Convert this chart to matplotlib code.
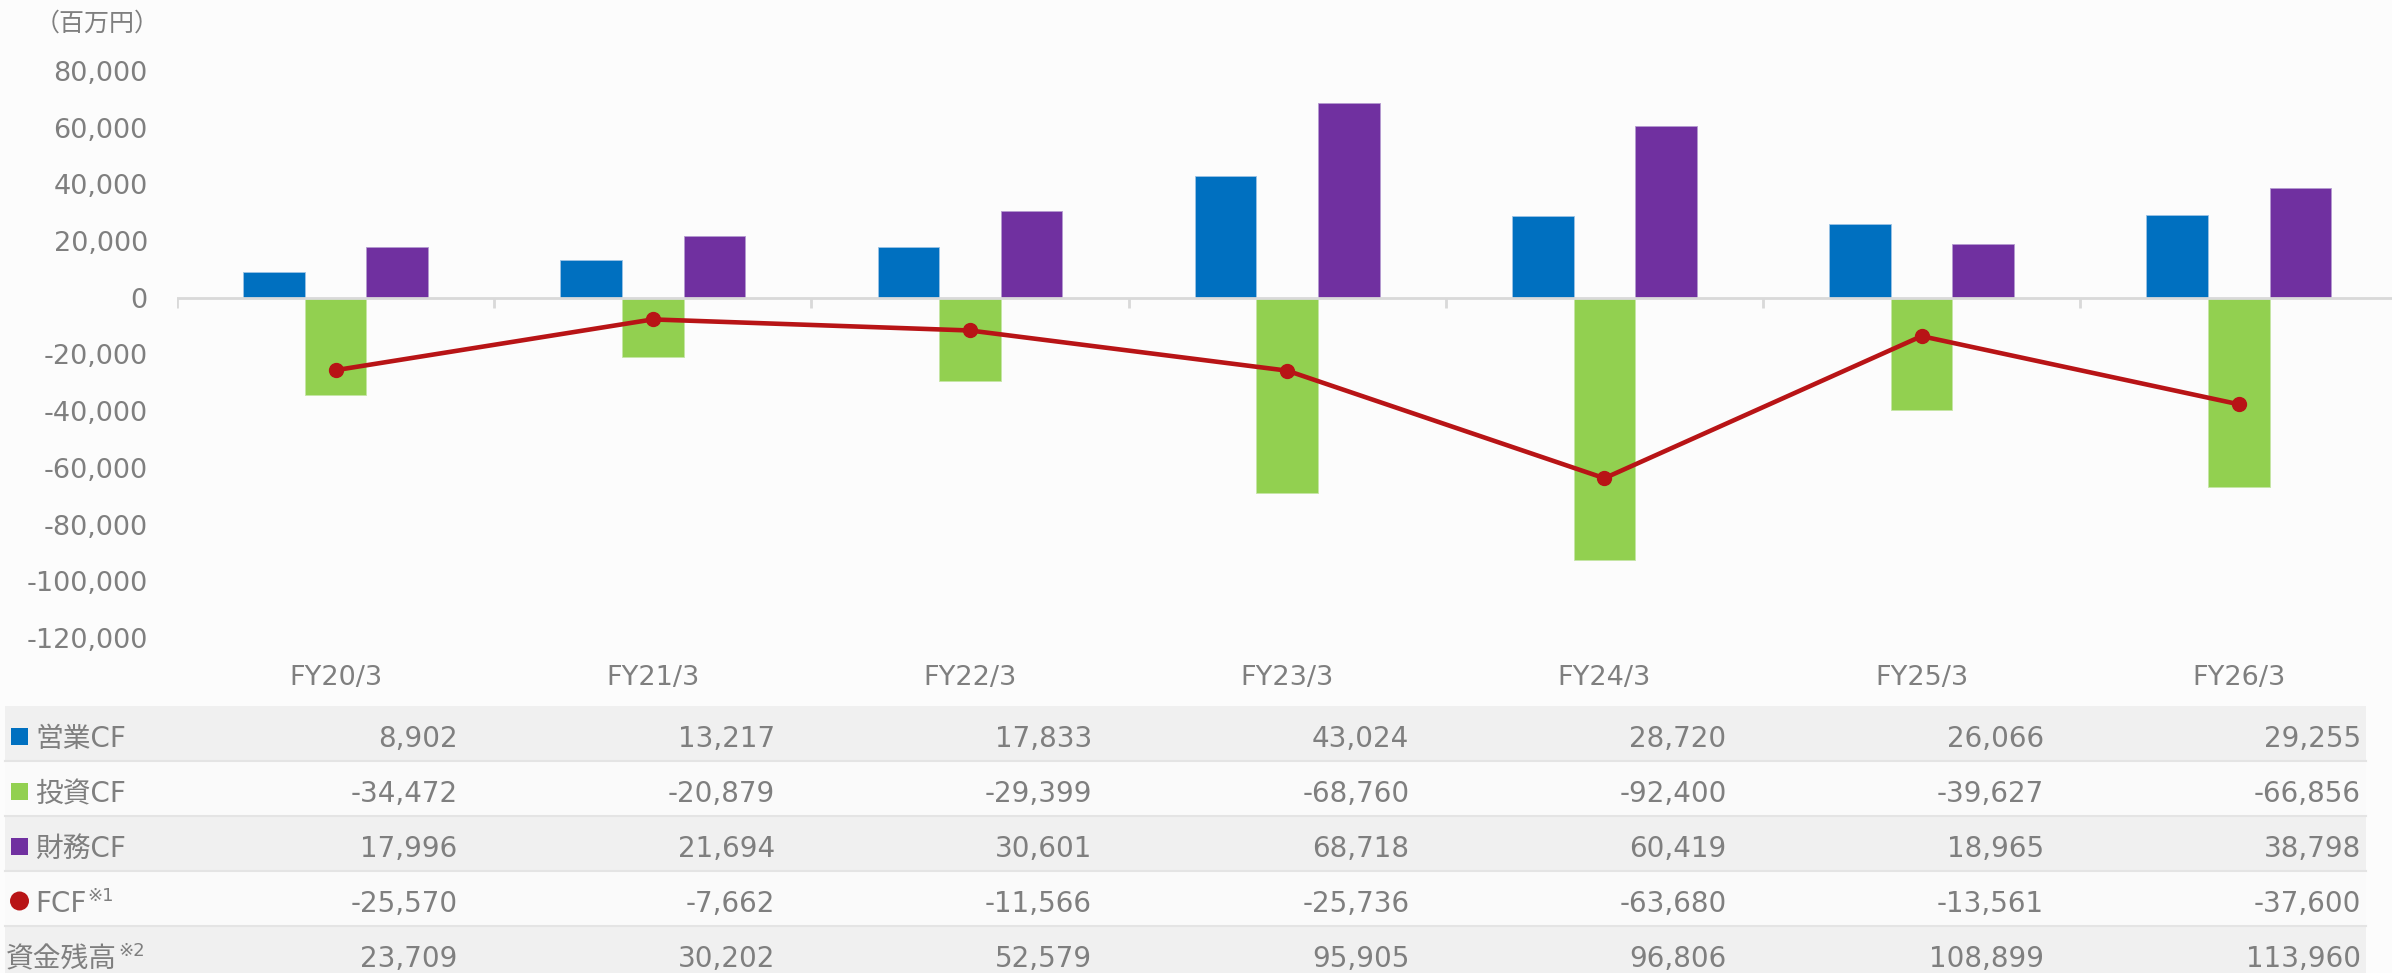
import numpy as np
import matplotlib
matplotlib.use("Agg")
import matplotlib.pyplot as plt
from matplotlib.patches import Rectangle, Ellipse
from matplotlib.transforms import blended_transform_factory

plt.rcParams['font.family'] = ['DejaVu Sans', 'Noto Sans CJK JP']

# ---- data ----
categories = ["FY20/3", "FY21/3", "FY22/3", "FY23/3", "FY24/3", "FY25/3", "FY26/3"]
op_cf = [8902, 13217, 17833, 43024, 28720, 26066, 29255]
inv_cf = [-34472, -20879, -29399, -68760, -92400, -39627, -66856]
fin_cf = [17996, 21694, 30601, 68718, 60419, 18965, 38798]
fcf = [-25570, -7662, -11566, -25736, -63680, -13561, -37600]
cash = [23709, 30202, 52579, 95905, 96806, 108899, 113960]
row_labels = ["営業CF", "投資CF", "財務CF", "FCF", "資金残高"]
row_sups = ["", "", "", "※1", "※2"]
yticks = list(range(-120000, 80001, 20000))
unit_label = "（百万円）"

C_BLUE = "#0070C0"
C_GREEN = "#92D050"
C_PURPLE = "#7030A0"
C_RED = "#B81416"
C_TEXT = "#7F7F7F"
C_BG = "#FCFCFC"

W, H = 2392, 973
fig = plt.figure(figsize=(W / 100, H / 100), dpi=100)
fig.patch.set_facecolor(C_BG)

def fx(px):
    return px / W

def fy(py):
    return 1 - py / H

ymin, ymax = -120000, 100000
ax_left_px, ax_right_px, ax_top_px, ax_bot_px = 177.0, 2397.4, 14.2, 637.9
ax = fig.add_axes([fx(ax_left_px), fy(ax_bot_px), (ax_right_px - ax_left_px) / W, (ax_bot_px - ax_top_px) / H])
ax.set_facecolor(C_BG)
ax.set_xlim(-0.5, len(categories) - 0.5)
ax.set_ylim(ymin, ymax)

x = np.arange(len(categories))
bw = 0.194
ax.bar(x - bw, op_cf, bw, color=C_BLUE, zorder=2, edgecolor="#9CC3E5", linewidth=0.6)
ax.bar(x, inv_cf, bw, color=C_GREEN, zorder=2, edgecolor="#C5E6A5", linewidth=0.6)
ax.bar(x + bw, fin_cf, bw, color=C_PURPLE, zorder=2, edgecolor="#B49AD0", linewidth=0.6)

# zero axis line and category boundary ticks
ax.axhline(0, color="#D9D9D9", lw=2, zorder=3)
tick_len = 10 / (ax_bot_px - ax_top_px) * (ymax - ymin)
ax.vlines(np.arange(len(categories) + 1) - 0.5, -tick_len, 0, color="#D9D9D9", lw=2, zorder=3)

ax.plot(x, fcf, color=C_RED, lw=3.3, marker="o", markersize=10, zorder=5)

for s in ax.spines.values():
    s.set_visible(False)
ax.set_xticks([])
ax.set_yticks(yticks)
ax.set_yticklabels([f"{v:,}" for v in yticks], color=C_TEXT, fontsize=19.5)
ax.tick_params(axis="y", length=0, pad=21)

fig.text(fx(160), fy(24), unit_label, ha="right", va="center", color=C_TEXT, fontsize=18)

bt = blended_transform_factory(ax.transData, fig.transFigure)
for i, c in enumerate(categories):
    fig.text(i, fy(678), c, transform=bt, ha="center", va="center", color=C_TEXT, fontsize=19.5)

# ---- table ----
row_top0, row_h = 706, 55
tab_left, tab_right = 5, 2366
rows = [op_cf, inv_cf, fin_cf, fcf, cash]
fig.canvas.draw()
renderer = fig.canvas.get_renderer()
for r, vals in enumerate(rows):
    top = row_top0 + r * row_h
    color = "#F0F0F0" if r % 2 == 0 else "#FAFAFA"
    fig.patches.append(Rectangle((fx(tab_left), fy(top + row_h)), fx(tab_right) - fx(tab_left), row_h / H,
                                 transform=fig.transFigure, facecolor=color, edgecolor="none", zorder=0))
    if r > 0:
        fig.lines.append(plt.Line2D([fx(tab_left), fx(tab_right)], [fy(top), fy(top)],
                                    transform=fig.transFigure, color="#E4E4E4", lw=1.5, zorder=1))
    base = top + 41
    cy = top + 30
    if r < 3:
        mc = [C_BLUE, C_GREEN, C_PURPLE][r]
        fig.patches.append(Rectangle((fx(11), fy(cy + 8.5)), 17 / W, 17 / H, transform=fig.transFigure,
                                     facecolor=mc, edgecolor="none", zorder=2))
        lx = 35
    elif r == 3:
        fig.patches.append(Ellipse((fx(19.5), fy(cy)), 19 / W, 19 / H, transform=fig.transFigure,
                                   facecolor=C_RED, edgecolor="none", zorder=2))
        lx = 35
    else:
        lx = 6
    t = fig.text(fx(lx), fy(base), row_labels[r], ha="left", va="baseline", color=C_TEXT, fontsize=20)
    if row_sups[r]:
        bb = t.get_window_extent(renderer)
        fig.text((bb.x1 + 1) / W, fy(top + 16), row_sups[r], ha="left", va="top", color=C_TEXT, fontsize=13)
    for i, v in enumerate(vals):
        fig.text(i + 0.385, fy(base), f"{v:,}", transform=bt, ha="right", va="baseline", color=C_TEXT, fontsize=20)

fig.savefig("out.png", dpi=100, facecolor=C_BG)
